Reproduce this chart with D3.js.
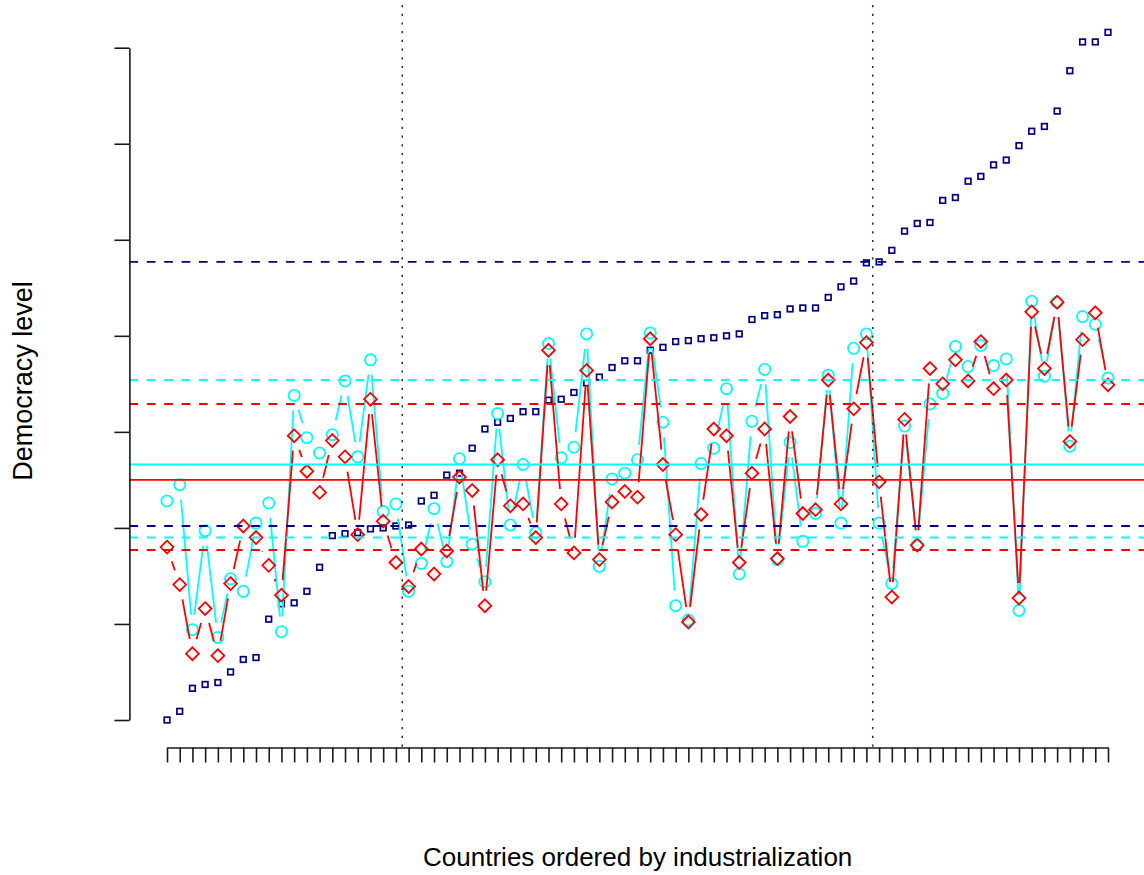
<!DOCTYPE html>
<html>
<head>
<meta charset="utf-8">
<script src="https://cdn.jsdelivr.net/npm/d3@7"></script>
<style>
  html, body { margin: 0; padding: 0; background: #fff; }
  svg { display: block; }
</style>
</head>
<body>
<svg id="chart" width="1144" height="875"></svg>
<script>
// Industrialization index, countries sorted from least to most industrialized
const industrialization = [
  0.00, 0.09, 0.33, 0.37, 0.39, 0.50, 0.63, 0.65, 1.05, 1.21,
  1.22, 1.34, 1.59, 1.92, 1.94, 1.95, 1.99, 2.00, 2.02, 2.03,
  2.28, 2.34, 2.55, 2.57, 2.83, 3.03, 3.10, 3.14, 3.21, 3.21,
  3.33, 3.34, 3.41, 3.51, 3.57, 3.67, 3.74, 3.74, 3.85, 3.88,
  3.94, 3.95, 3.97, 3.98, 4.00, 4.02, 4.17, 4.21, 4.22, 4.28,
  4.29, 4.29, 4.40, 4.51, 4.57, 4.76, 4.77, 4.89, 5.09, 5.17,
  5.18, 5.41, 5.44, 5.61, 5.66, 5.78, 5.83, 5.98, 6.13, 6.18,
  6.34, 6.76, 7.06, 7.06, 7.16
];

// Democracy level in 1960, same country order
const democracy1960 = [
  2.28, 2.45, 0.94, 1.97, 0.86, 1.47, 1.34, 2.05, 2.26, 0.92,
  3.38, 2.94, 2.78, 2.97, 3.53, 2.74, 3.75, 2.17, 2.25, 1.34,
  1.63, 2.20, 1.65, 2.72, 1.83, 1.44, 3.19, 2.03, 2.66, 1.95,
  3.92, 2.73, 2.84, 4.02, 1.60, 2.51, 2.57, 2.71, 4.03, 3.10,
  1.19, 1.04, 2.67, 2.83, 3.45, 1.52, 3.11, 3.65, 1.67, 2.89,
  1.86, 2.15, 3.59, 2.05, 3.87, 4.02, 2.05, 1.42, 3.06, 1.82,
  3.29, 3.40, 3.89, 3.68, 3.90, 3.69, 3.76, 1.14, 4.36, 3.58,
  4.35, 2.85, 4.20, 4.12, 3.56
];

// Democracy level in 1965, same country order
const democracy1965 = [
  1.80, 1.41, 0.69, 1.16, 0.67, 1.42, 2.02, 1.90, 1.61, 1.30,
  2.96, 2.59, 2.37, 2.91, 2.74, 1.93, 3.34, 2.07, 1.64, 1.39,
  1.78, 1.52, 1.76, 2.53, 2.39, 1.19, 2.71, 2.23, 2.25, 1.90,
  3.85, 2.25, 1.74, 3.64, 1.67, 2.27, 2.38, 2.32, 3.97, 2.66,
  1.93, 1.02, 2.14, 3.03, 2.96, 1.64, 2.57, 3.03, 1.68, 3.16,
  2.15, 2.19, 3.54, 2.25, 3.24, 3.93, 2.48, 1.28, 3.13, 1.82,
  3.66, 3.50, 3.75, 3.53, 3.94, 3.45, 3.54, 1.27, 4.25, 3.66,
  4.35, 2.90, 3.96, 4.24, 3.49
];

const yTicks = [0, 1, 2, 3, 4, 5, 6, 7];

// Boundaries between the low / middle / high industrialization groups
const groupBreaks = [19.5, 56.5];
const industrializationCuts = [2.02, 4.77];

// Overall means and group reference levels of democracy
const overallMeans = [2.66, 2.50];        // 1960, 1965
const levels1960 = [1.90, 3.54];
const levels1965 = [1.77, 3.29];

const W = 1144, H = 875;
const plot = { left: 129.4, right: 1146, top: 5, bottom: 747.5 };

const svg = d3.select("#chart");
svg.append("rect").attr("width", W).attr("height", H).attr("fill", "#fff");

const x = d3.scaleLinear().domain([1, 75]).range([167, 1108]);
const y = d3.scaleLinear().domain([0, 7]).range([720, 47.7]);

const clipId = "plot-area";
svg.append("defs").append("clipPath").attr("id", clipId)
  .append("rect")
  .attr("x", plot.left).attr("y", plot.top)
  .attr("width", plot.right - plot.left).attr("height", plot.bottom - plot.top);

const area = svg.append("g").attr("clip-path", `url(#${clipId})`);

const COL = { ind: "#000080", d60: "#00ffff", d65: "#ff0000" };

// Industrialization: open squares
area.append("g").selectAll("rect")
  .data(industrialization)
  .join("rect")
  .attr("x", (d, i) => x(i + 1) - 2.8)
  .attr("y", d => y(d) - 2.8)
  .attr("width", 5.6).attr("height", 5.6)
  .attr("fill", "none")
  .attr("stroke", COL.ind)
  .attr("stroke-width", 1.7);

// Segments between consecutive points that stop short of each marker
function gappedSegments(values, gap) {
  const pts = values.map((v, i) => [x(i + 1), y(v)]);
  return d3.pairs(pts).map(([a, b]) => {
    const dx = b[0] - a[0], dy = b[1] - a[1];
    const len = Math.hypot(dx, dy);
    if (len <= 2 * gap) return null;
    const ux = dx / len, uy = dy / len;
    return [a[0] + ux * gap, a[1] + uy * gap, b[0] - ux * gap, b[1] - uy * gap];
  }).filter(s => s);
}

function drawSeries(values, color, shape) {
  const g = area.append("g");
  g.selectAll("line")
    .data(gappedSegments(values, 15))
    .join("line")
    .attr("x1", s => s[0]).attr("y1", s => s[1])
    .attr("x2", s => s[2]).attr("y2", s => s[3])
    .attr("stroke", color).attr("stroke-width", 1.8);
  if (shape === "circle") {
    g.selectAll("circle")
      .data(values)
      .join("circle")
      .attr("cx", (d, i) => x(i + 1))
      .attr("cy", d => y(d))
      .attr("r", 5.6)
      .attr("fill", "none")
      .attr("stroke", color).attr("stroke-width", 1.8);
  } else {
    const h = 6.4;
    g.selectAll("path")
      .data(values)
      .join("path")
      .attr("d", (d, i) => {
        const cx = x(i + 1), cy = y(d);
        return `M${cx},${cy - h}L${cx + h},${cy}L${cx},${cy + h}L${cx - h},${cy}Z`;
      })
      .attr("fill", "none")
      .attr("stroke", color).attr("stroke-width", 1.8);
  }
}

drawSeries(democracy1960, COL.d60, "circle");
drawSeries(democracy1965, COL.d65, "diamond");

// Horizontal reference lines
function hline(v, color, dashed) {
  area.append("line")
    .attr("x1", plot.left).attr("x2", plot.right)
    .attr("y1", y(v)).attr("y2", y(v))
    .attr("stroke", color).attr("stroke-width", 1.9)
    .attr("stroke-dasharray", dashed ? "8.7,8.7" : null);
}
hline(overallMeans[0], COL.d60, false);
hline(overallMeans[1], COL.d65, false);
industrializationCuts.forEach(v => hline(v, COL.ind, true));
levels1960.forEach(v => hline(v, COL.d60, true));
levels1965.forEach(v => hline(v, COL.d65, true));

// Vertical group separators
area.selectAll(".sep")
  .data(groupBreaks)
  .join("line")
  .attr("class", "sep")
  .attr("x1", d => x(d)).attr("x2", d => x(d))
  .attr("y1", plot.top).attr("y2", plot.bottom)
  .attr("stroke", "#333").attr("stroke-width", 1.6)
  .attr("stroke-dasharray", "2.2,6.5");

// Axes (tick marks only)
const yAxis = svg.append("g")
  .attr("transform", `translate(${plot.left},0)`)
  .call(d3.axisLeft(y).tickValues(yTicks).tickFormat("").tickSize(15).tickSizeOuter(0));

const xAxis = svg.append("g")
  .attr("transform", `translate(0,${plot.bottom})`)
  .call(d3.axisBottom(x).tickValues(d3.range(1, 76)).tickFormat("").tickSize(15).tickSizeOuter(0));

[yAxis, xAxis].forEach(a => {
  a.selectAll("path,line").attr("stroke", "#1a1a1a").attr("stroke-width", 1.6);
});

// Axis titles
svg.append("text")
  .attr("x", (plot.left + plot.right) / 2)
  .attr("y", 866)
  .attr("text-anchor", "middle")
  .attr("font-family", "'Liberation Sans', Arial, Helvetica, sans-serif")
  .attr("font-size", 26)
  .attr("fill", "#000")
  .text("Countries ordered by industrialization");

svg.append("text")
  .attr("transform", "translate(32,381) rotate(-90)")
  .attr("text-anchor", "middle")
  .attr("font-family", "'Liberation Sans', Arial, Helvetica, sans-serif")
  .attr("font-size", 27)
  .attr("fill", "#000")
  .text("Democracy level");
</script>
</body>
</html>
